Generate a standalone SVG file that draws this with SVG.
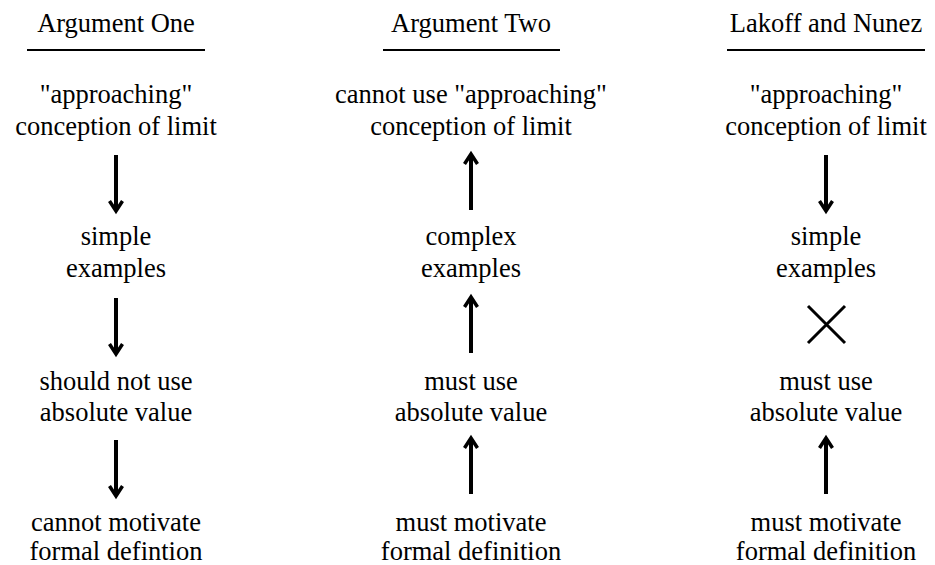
<svg xmlns="http://www.w3.org/2000/svg" width="935" height="565" viewBox="0 0 935 565">
<defs>
<style>
text{font-family:'Liberation Serif',Times,'DejaVu Serif',serif;font-size:26.5px;fill:#000;text-anchor:middle}
.rule{stroke:#000;stroke-width:2}
.arr{stroke:#000;stroke-width:4;fill:none;marker-end:url(#head)}
.x{stroke:#000;stroke-width:3;fill:none}
</style>
<marker id="head" markerUnits="userSpaceOnUse" viewBox="-14 -10 18 20" refX="0" refY="0" markerWidth="18" markerHeight="20" orient="auto" overflow="visible">
<path d="M-10,-6.5 L0,0 L-10,6.5" fill="none" stroke="#000" stroke-width="3.5" stroke-linejoin="miter"/>
</marker>
</defs>
<rect width="935" height="565" fill="#fff"/>
<g font-family="Liberation Serif, Times, DejaVu Serif, serif">
<g id="headers">
<g id="h1"><text x="116" y="32">Argument One</text><line class="rule" x1="27" y1="50" x2="205" y2="50"/></g>
<g id="h2"><text x="471" y="32">Argument Two</text><line class="rule" x1="383" y1="50" x2="560" y2="50"/></g>
<g id="h3"><text x="826" y="32">Lakoff and Nunez</text><line class="rule" x1="727" y1="50" x2="925" y2="50"/></g>
</g>
<g id="a1"><text x="116" y="103">"approaching"</text><text x="116" y="135">conception of limit</text></g>
<g id="a2"><text x="116" y="245">simple</text><text x="116" y="277">examples</text></g>
<g id="a3"><text x="116" y="390">should not use</text><text x="116" y="421">absolute value</text></g>
<g id="a4"><text x="116" y="531">cannot motivate</text><text x="116" y="560">formal defintion</text></g>
<g id="b1"><text x="471" y="103">cannot use "approaching"</text><text x="471" y="135">conception of limit</text></g>
<g id="b2"><text x="471" y="245">complex</text><text x="471" y="277">examples</text></g>
<g id="b3"><text x="471" y="390">must use</text><text x="471" y="421">absolute value</text></g>
<g id="b4"><text x="471" y="531">must motivate</text><text x="471" y="560">formal definition</text></g>
<g id="c1"><text x="826" y="103">"approaching"</text><text x="826" y="135">conception of limit</text></g>
<g id="c2"><text x="826" y="245">simple</text><text x="826" y="277">examples</text></g>
<g id="c3"><text x="826" y="390">must use</text><text x="826" y="421">absolute value</text></g>
<g id="c4"><text x="826" y="531">must motivate</text><text x="826" y="560">formal definition</text></g>
</g>
<g id="connectors">
<line class="arr" x1="116" y1="155" x2="116" y2="211"/>
<line class="arr" x1="116" y1="298" x2="116" y2="354"/>
<line class="arr" x1="116" y1="440" x2="116" y2="496"/>
<line class="arr" x1="471" y1="210" x2="471" y2="154"/>
<line class="arr" x1="471" y1="353" x2="471" y2="297"/>
<line class="arr" x1="471" y1="494" x2="471" y2="438"/>
<line class="arr" x1="826" y1="155" x2="826" y2="211"/>
<path class="x" d="M808,306 L845,343 M845,306 L808,343"/>
<line class="arr" x1="826" y1="494" x2="826" y2="438"/>
</g>
</svg>
